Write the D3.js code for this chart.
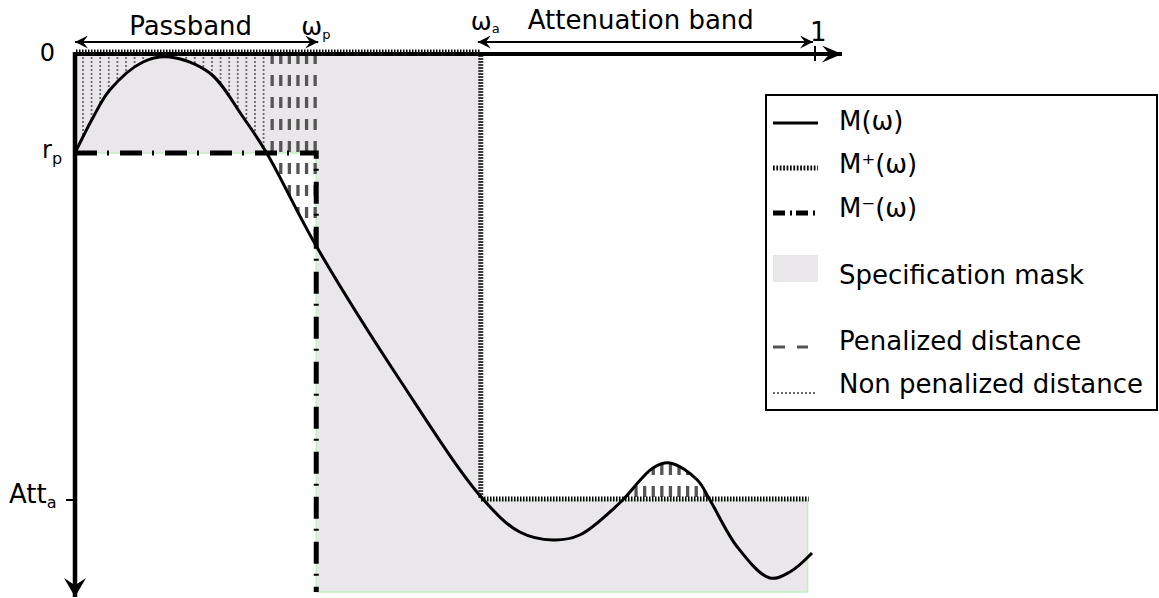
<!DOCTYPE html>
<html>
<head>
<meta charset="utf-8">
<script src="https://cdn.jsdelivr.net/npm/d3@7"></script>
<style>
  body { margin: 0; background: #fff; }
  text { font-family: 'DejaVu Sans', sans-serif; fill: #000; }
</style>
</head>
<body>
<svg id="chart" width="1159" height="598"></svg>
<script>
// filter response M(w): normalised frequency / magnitude (dB)
const omega = [0, 0.024, 0.047, 0.092, 0.128, 0.182, 0.227, 0.259, 0.326, 0.439,
  0.550, 0.601, 0.646, 0.682, 0.736, 0.781, 0.804, 0.841, 0.858, 0.895,
  0.939, 0.966, 0.996];
const magnitude = [-3.00, -1.95, -1.11, -0.27, -0.12, -0.60, -1.92, -3.00, -5.79, -9.81,
  -13.35, -14.37, -14.61, -14.46, -13.50, -12.45, -12.30, -12.81, -13.41, -14.82,
  -15.75, -15.57, -15.00];

// specification template
const rp = -3;
const attA = -13.41;
const omegaP = 0.326;
const omegaA = 0.547;
const omegaEnd = 0.99;
const floorDb = -16.17;

// M+ (upper bound) and M- (lower bound)
const upperOmega = [0, omegaA, omegaA, omegaEnd];
const upperDb = [0, 0, attA, attA];
const lowerOmega = [0, omegaP, omegaP];
const lowerDb = [rp, rp, floorDb];

// distance sampling step along omega
const distStep = 0.01162;
const passStart = 0.0108;
const attStart = 0.549;

const yTickValues = [0, rp, attA];
const yTickLabels = [['0', ''], ['r', 'p'], ['Att', 'a']];
const xTickValues = [omegaP, omegaA, 1];
const xTickLabels = [['ω', 'p'], ['ω', 'a'], ['1', '']];

const legendLabels = ['M(ω)', 'M⁺(ω)', 'M⁻(ω)', 'Specification mask', 'Penalized distance', 'Non penalized distance'];

const maskFill = '#e9e7e9';
const maskEdge = '#c4efc4';
const distColor = '#555';
const dotColor = '#6a6a6a';

const svg = d3.select('#chart');

const x = d3.scaleLinear().domain([0, 1]).range([75, 815]);
const y = d3.scaleLinear().domain([0, rp]).range([53, 153]);

// arrow heads
const defs = svg.append('defs');
function marker(id, L, W) {
  defs.append('marker')
    .attr('id', id)
    .attr('markerUnits', 'userSpaceOnUse')
    .attr('viewBox', `${-L} ${-W} ${L + 1} ${2 * W}`)
    .attr('markerWidth', L + 1)
    .attr('markerHeight', 2 * W)
    .attr('refX', 0)
    .attr('refY', 0)
    .attr('orient', 'auto-start-reverse')
    .append('path')
    .attr('d', `M0,0 L${-L},${-W} L${-0.62 * L},0 L${-L},${W} Z`)
    .attr('fill', '#000');
}
marker('arrSmall', 13, 6.5);
marker('arrX', 20, 8.5);
marker('arrY', 19, 11);

const gMask = svg.append('g');
const gDist = svg.append('g');
const gAxes = svg.append('g');
const gSpec = svg.append('g');
const gCurve = svg.append('g');
const gAnn = svg.append('g');
const gLegend = svg.append('g');

const stepLine = d3.line().x(d => x(d[0])).y(d => y(d[1]));

// specification mask: between M+ and M-
const maskPts = d3.zip(upperOmega, upperDb)
  .concat([[omegaEnd, floorDb]])
  .concat(d3.zip(lowerOmega, lowerDb).reverse());
gMask.append('path')
  .attr('d', stepLine(maskPts) + 'Z')
  .attr('fill', maskFill)
  .attr('stroke', maskEdge)
  .attr('stroke-width', 1.5);

// M(w)
const curve = gCurve.append('path')
  .datum(d3.zip(omega, magnitude))
  .attr('d', d3.line().x(d => x(d[0])).y(d => y(d[1])).curve(d3.curveCatmullRom.alpha(0.5)))
  .attr('fill', 'none')
  .attr('stroke', '#000')
  .attr('stroke-width', 3);

// sample the drawn curve to read M at any omega
const node = curve.node();
const total = node.getTotalLength();
const pts = d3.range(0, total, 0.5).map(l => node.getPointAtLength(l));
const bis = d3.bisector(p => p.x).left;
function curvePx(px) {
  const i = Math.min(Math.max(bis(pts, px), 1), pts.length - 1);
  const a = pts[i - 1], b = pts[i];
  const t = b.x === a.x ? 0 : (px - a.x) / (b.x - a.x);
  return a.y + t * (b.y - a.y);
}

// distances in the passband (from M+ down to M)
const passSamples = d3.range(passStart, omegaP, distStep);
passSamples.forEach(w => {
  const cy = curvePx(x(w));
  const pen = cy > y(rp);
  gDist.append('line')
    .attr('x1', x(w)).attr('x2', x(w))
    .attr('y1', y(0)).attr('y2', cy)
    .attr('stroke', pen ? distColor : dotColor)
    .attr('stroke-width', pen ? 3.3 : 1.8)
    .attr('stroke-dasharray', pen ? '11,11' : '2,2');
});

// distances in the attenuation band (M above Att_a)
const attSamples = d3.range(attStart, omegaEnd, distStep);
attSamples.forEach(w => {
  const cy = curvePx(x(w));
  if (cy < y(attA) - 4) {
    gDist.append('line')
      .attr('x1', x(w)).attr('x2', x(w))
      .attr('y1', y(attA) - 3).attr('y2', cy)
      .attr('stroke', distColor)
      .attr('stroke-width', 3.3)
      .attr('stroke-dasharray', '11,11');
  }
});

// axes
gAxes.append('line')
  .attr('x1', x(0) - 2).attr('x2', 842)
  .attr('y1', y(0) + 1).attr('y2', y(0) + 1)
  .attr('stroke', '#000').attr('stroke-width', 4)
  .attr('marker-end', 'url(#arrX)');
gAxes.append('line')
  .attr('x1', x(0)).attr('x2', x(0))
  .attr('y1', y(0) - 1).attr('y2', 597)
  .attr('stroke', '#000').attr('stroke-width', 4.5)
  .attr('marker-end', 'url(#arrY)');
gAxes.append('line')
  .attr('x1', x(1)).attr('x2', x(1))
  .attr('y1', y(0) - 7).attr('y2', y(0) + 8)
  .attr('stroke', '#000').attr('stroke-width', 2);
gAxes.append('line')
  .attr('x1', x(0) - 9).attr('x2', x(0))
  .attr('y1', y(attA)).attr('y2', y(attA))
  .attr('stroke', '#000').attr('stroke-width', 2);

// M- and M+
gSpec.append('path')
  .attr('d', stepLine(d3.zip(lowerOmega, lowerDb)))
  .attr('fill', 'none')
  .attr('stroke', '#000')
  .attr('stroke-width', 5)
  .attr('stroke-dasharray', '22,10,2,11');
gSpec.append('path')
  .attr('d', stepLine(d3.zip(upperOmega, upperDb)))
  .attr('transform', 'translate(1,-1)')
  .attr('fill', 'none')
  .attr('stroke', '#000')
  .attr('stroke-width', 5)
  .attr('stroke-dasharray', '1.5,1.5');

gCurve.raise();
gAnn.raise();
gLegend.raise();

// y tick labels
const yLab = [
  { x: 55, dy: 8, size: 24, anchor: 'end', subDy: 0 },
  { x: 42, dy: 5, size: 24, anchor: 'start', subDy: 5.5 },
  { x: 9, dy: 3, size: 26, anchor: 'start', subDy: 5 }
];
yTickValues.forEach((v, i) => {
  const t = gAnn.append('text')
    .attr('x', yLab[i].x)
    .attr('y', y(v) + yLab[i].dy)
    .attr('text-anchor', yLab[i].anchor)
    .style('font-size', yLab[i].size + 'px')
    .text(yTickLabels[i][0]);
  if (yTickLabels[i][1]) {
    t.append('tspan').attr('dy', yLab[i].subDy).style('font-size', '16px').text(yTickLabels[i][1]);
  }
});

// x tick labels
const xLab = [
  { dx: -15, y: 35, size: 25, subDy: 4 },
  { dx: -9, y: 30, size: 25, subDy: 3 },
  { dx: -5, y: 41, size: 26, subDy: 0 }
];
xTickValues.forEach((v, i) => {
  const t = gAnn.append('text')
    .attr('x', x(v) + xLab[i].dx)
    .attr('y', xLab[i].y)
    .style('font-size', xLab[i].size + 'px')
    .text(xTickLabels[i][0]);
  if (xTickLabels[i][1]) {
    t.append('tspan').attr('dy', xLab[i].subDy).style('font-size', '13px').text(xTickLabels[i][1]);
  }
});

// band arrows
gAnn.append('line')
  .attr('x1', x(0)).attr('x2', x(omegaP) + 2)
  .attr('y1', 42).attr('y2', 42)
  .attr('stroke', '#000').attr('stroke-width', 2)
  .attr('marker-start', 'url(#arrSmall)')
  .attr('marker-end', 'url(#arrSmall)');
gAnn.append('line')
  .attr('x1', x(omegaA) - 2).attr('x2', x(1) - 2)
  .attr('y1', 42).attr('y2', 42)
  .attr('stroke', '#000').attr('stroke-width', 2)
  .attr('marker-start', 'url(#arrSmall)')
  .attr('marker-end', 'url(#arrSmall)');
gAnn.append('text')
  .attr('x', (x(0) + x(omegaP)) / 2 - 5)
  .attr('y', 35)
  .attr('text-anchor', 'middle')
  .style('font-size', '26px')
  .text('Passband');
gAnn.append('text')
  .attr('x', x(omegaA) + 48)
  .attr('y', 29)
  .style('font-size', '26px')
  .text('Attenuation band');

// legend
const lx = 766, ly = 95;
gLegend.append('rect')
  .attr('x', lx).attr('y', ly)
  .attr('width', 391).attr('height', 315)
  .attr('fill', '#fff').attr('stroke', '#000').attr('stroke-width', 2);

const sw0 = lx + 7, sw1 = lx + 52, tx = lx + 73;
const swY = [123, 168, 213, 268, 347, 393];
const txY = [130, 173, 217, 284, 350, 393];

gLegend.append('line').attr('x1', sw0).attr('x2', sw1).attr('y1', swY[0]).attr('y2', swY[0])
  .attr('stroke', '#000').attr('stroke-width', 3);
gLegend.append('line').attr('x1', sw0).attr('x2', sw1).attr('y1', swY[1]).attr('y2', swY[1])
  .attr('stroke', '#000').attr('stroke-width', 5).attr('stroke-dasharray', '1.7,1.7');
gLegend.append('line').attr('x1', sw0).attr('x2', sw1).attr('y1', swY[2]).attr('y2', swY[2])
  .attr('stroke', '#000').attr('stroke-width', 5).attr('stroke-dasharray', '12,5,2,4');
gLegend.append('rect').attr('x', sw0).attr('y', swY[3] - 13).attr('width', 45).attr('height', 27)
  .attr('fill', maskFill);
gLegend.append('line').attr('x1', sw0).attr('x2', sw0 + 35).attr('y1', swY[4]).attr('y2', swY[4])
  .attr('stroke', distColor).attr('stroke-width', 3).attr('stroke-dasharray', '12,12');
gLegend.append('line').attr('x1', sw0).attr('x2', sw1 - 1).attr('y1', swY[5]).attr('y2', swY[5])
  .attr('stroke', dotColor).attr('stroke-width', 2).attr('stroke-dasharray', '2,2');

gLegend.selectAll('text.leg')
  .data(legendLabels)
  .join('text')
  .attr('class', 'leg')
  .attr('x', tx)
  .attr('y', (d, i) => txY[i])
  .style('font-size', '26px')
  .text(d => d);
</script>
</body>
</html>
